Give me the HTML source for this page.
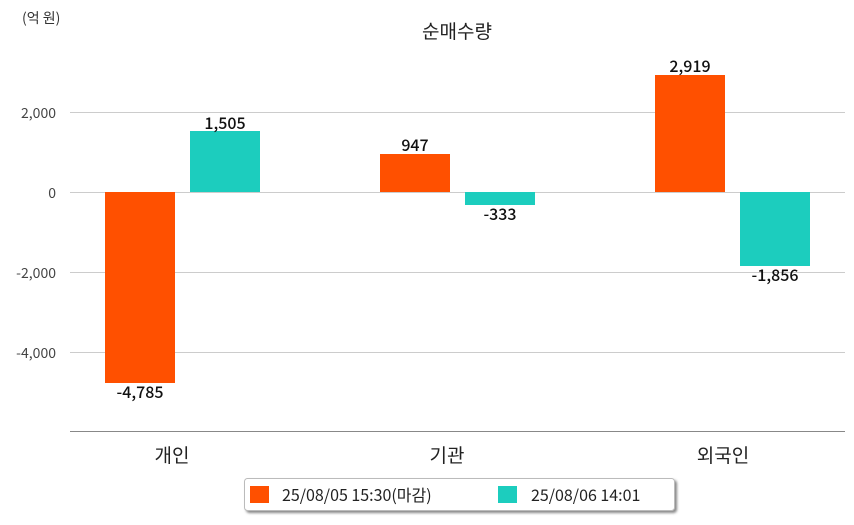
<!DOCTYPE html>
<html><head><meta charset="utf-8"><style>
body{margin:0;background:#fff;}
svg text{font-family:"Noto Sans CJK KR","Liberation Sans",sans-serif;}
</style></head><body>
<svg width="854" height="520" xmlns="http://www.w3.org/2000/svg">
<defs><filter id="sh" x="-5%" y="-20%" width="110%" height="160%"><feDropShadow dx="2" dy="2" stdDeviation="1.2" flood-color="#555" flood-opacity="0.7"/></filter></defs>
<text x="22" y="23" font-size="14" fill="#333">(억 원)</text>
<text x="457" y="38" font-size="19" fill="#222" text-anchor="middle">순매수량</text>
<g stroke="#ccc" stroke-width="1">
<line x1="70" y1="112.5" x2="845" y2="112.5"/>
<line x1="70" y1="192.5" x2="845" y2="192.5"/>
<line x1="70" y1="272.5" x2="845" y2="272.5"/>
<line x1="70" y1="352.5" x2="845" y2="352.5"/>
</g>
<line x1="70" y1="431.5" x2="845" y2="431.5" stroke="#888" stroke-width="1"/>
<g font-size="14" fill="#444" text-anchor="end">
<text x="56" y="118">2,000</text>
<text x="56" y="198">0</text>
<text x="56" y="278">-2,000</text>
<text x="56" y="358">-4,000</text>
</g>
<g fill="#ff5000">
<rect x="105" y="192" width="70" height="191"/>
<rect x="380" y="154" width="70" height="38"/>
<rect x="655" y="75" width="70" height="117"/>
</g>
<g fill="#1ccdbe">
<rect x="190" y="131" width="70" height="61"/>
<rect x="465" y="192" width="70" height="13"/>
<rect x="740" y="192" width="70" height="74"/>
</g>
<g font-size="16" fill="#111" text-anchor="middle" font-weight="500">
<text x="140" y="398">-4,785</text>
<text x="225" y="129">1,505</text>
<text x="415" y="151">947</text>
<text x="500" y="220">-333</text>
<text x="690" y="72">2,919</text>
<text x="775" y="281">-1,856</text>
</g>
<g font-size="19" fill="#222" text-anchor="middle">
<text x="172" y="462">개인</text>
<text x="447" y="462">기관</text>
<text x="723" y="462">외국인</text>
</g>
<rect x="244.5" y="478.5" width="430" height="32" rx="3" fill="#fff" stroke="#bbb" filter="url(#sh)"/>
<rect x="250" y="486" width="19" height="17" fill="#ff5000"/>
<text x="282" y="501" font-size="16" fill="#222">25/08/05 15:30(마감)</text>
<rect x="498" y="486" width="19" height="17" fill="#1ccdbe"/>
<text x="531" y="501" font-size="16" fill="#222">25/08/06 14:01</text>
</svg>
</body></html>
